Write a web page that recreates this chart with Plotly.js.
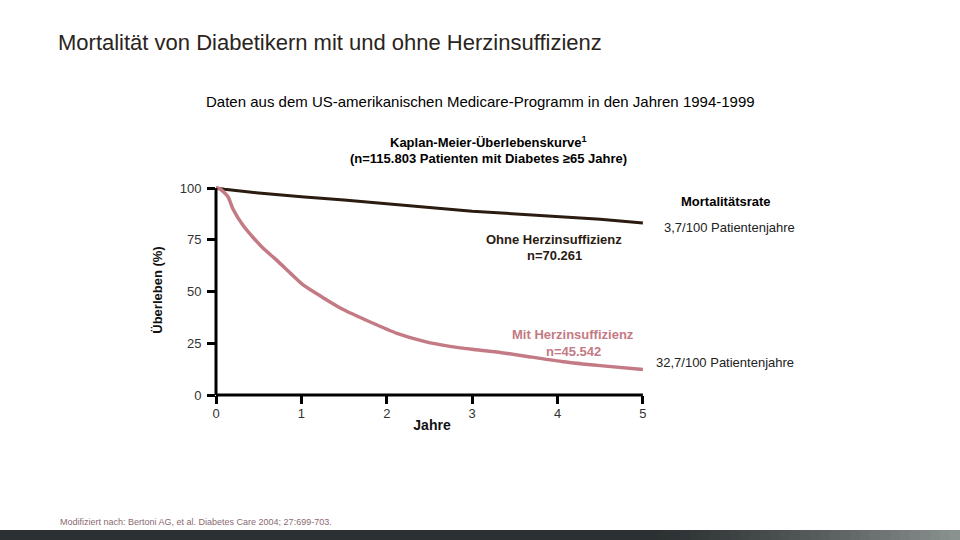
<!DOCTYPE html>
<html>
<head>
<meta charset="utf-8">
<script src="https://cdn.plot.ly/plotly-3.0.1.min.js"></script>
<style>html,body{margin:0;padding:0;background:#fff;}#chart{width:960px;height:540px;}</style>
</head>
<body>
<div id="chart"></div>
<script>
// Data (years, survival %)
const ohneYears = [0, 0.1, 0.5, 0.75, 1, 1.5, 2, 2.5, 3, 3.5, 4, 4.5, 5];
const ohneSurvival = [100, 99.4, 97.6, 96.6, 95.8, 94.3, 92.6, 90.6, 88.8, 87.6, 86.3, 85.0, 83.1];

const mitYears = [0, 0.05, 0.14, 0.2, 0.32, 0.44, 0.55, 0.71, 0.87, 1.02, 1.24, 1.49, 1.8, 2.12, 2.45, 2.74, 3.0, 3.29, 3.7, 4.07, 4.5, 5.0];
const mitSurvival = [100, 99.5, 95.8, 89.8, 81.8, 75.9, 71.0, 65.2, 58.9, 53.2, 47.4, 41.3, 35.4, 29.8, 25.8, 23.5, 22.1, 20.8, 18.3, 16.1, 14.2, 12.3];

const xTicks = [0, 1, 2, 3, 4, 5];
const xTickLabels = ['0', '1', '2', '3', '4', '5'];
const yTicks = [0, 25, 50, 75, 100];
const yTickLabels = ['0', '25', '50', '75', '100'];

const darkColor = '#2b1b10';
const pinkColor = '#c47a84';
const FONT = 'Liberation Sans, Arial, sans-serif';

// layout geometry
const L = 216, R = 960 - 648, T = 185, B = 145;
const W = 960 - L - R, H = 540 - T - B;
const XMAX = 5.06, YMAX = 101.5;
const px = v => (v - L) / W;          // pixel x -> paper
const py = v => (540 - B - v) / H;    // pixel y -> paper

const traces = [
  {x: ohneYears, y: ohneSurvival, type: 'scatter', mode: 'lines',
   line: {color: darkColor, width: 3}, hoverinfo: 'skip', showlegend: false},
  {x: mitYears, y: mitSurvival, type: 'scatter', mode: 'lines',
   line: {color: pinkColor, width: 3.5, shape: 'spline', smoothing: 0.6}, hoverinfo: 'skip', showlegend: false}
];

const ann = (text, x, y, opts) => Object.assign({
  text: text, xref: 'paper', yref: 'paper', x: px(x), y: py(y),
  xanchor: 'center', yanchor: 'middle', showarrow: false,
  font: {family: FONT, size: 13, color: '#111'}
}, opts || {});

const annotations = [
  ann('Mortalität von Diabetikern mit und ohne Herzinsuffizienz', 56, 42,
      {xanchor: 'left', font: {family: FONT, size: 22, color: '#2a2420'}}),
  ann('Daten aus dem US-amerikanischen Medicare-Programm in den Jahren 1994-1999', 480, 101,
      {font: {family: FONT, size: 15, color: '#000'}}),
  ann('<b>Kaplan-Meier-Überlebenskurve<sup>1</sup></b>', 488, 142,
      {font: {family: FONT, size: 13, color: '#000'}}),
  ann('<b>(n=115.803 Patienten mit Diabetes ≥65 Jahre)</b>', 488, 158,
      {font: {family: FONT, size: 13, color: '#000'}}),
  ann('<b>Mortalitätsrate</b>', 726, 201, {font: {family: FONT, size: 13, color: '#000'}}),
  ann('3,7/100 Patientenjahre', 729, 227, {font: {family: FONT, size: 13, color: '#222'}}),
  ann('<b>Ohne Herzinsuffizienz</b>', 554, 239, {font: {family: FONT, size: 13, color: darkColor}}),
  ann('<b>n=70.261</b>', 554, 255, {font: {family: FONT, size: 13, color: darkColor}}),
  ann('<b>Mit Herzinsuffizienz</b>', 573, 334, {font: {family: FONT, size: 13, color: pinkColor}}),
  ann('<b>n=45.542</b>', 573, 351, {font: {family: FONT, size: 13, color: pinkColor}}),
  ann('32,7/100 Patientenjahre', 725, 362, {font: {family: FONT, size: 13, color: '#222'}}),
  ann('Modifiziert nach: Bertoni AG, et al. Diabetes Care 2004; 27:699-703.', 58, 522,
      {xanchor: 'left', font: {family: FONT, size: 9, color: '#8a6a70'}})
];

// axis lines drawn within the data extent (0..5, 0..100)
const shapes = [
  {type: 'line', xref: 'x domain', yref: 'y domain', x0: 0, x1: 5 / XMAX, y0: 0, y1: 0,
   line: {color: '#000', width: 3}, layer: 'above'},
  {type: 'line', xref: 'x domain', yref: 'y domain', x0: 0, x1: 0, y0: 0, y1: 100 / YMAX,
   line: {color: '#000', width: 3}, layer: 'above'}
];
// bottom gradient bar
const barSteps = 96;
for (let i = 0; i < barSteps; i++) {
  const f = (i + 0.5) / barSteps;
  const t = f < 0.68 ? 0 : (f - 0.68) / 0.32;
  const c0 = [44, 48, 50], c1 = [140, 148, 146];
  const c = c0.map((v, k) => Math.round(v + (c1[k] - v) * Math.pow(t, 1.3)));
  shapes.push({type: 'rect', xref: 'paper', yref: 'paper', layer: 'below',
    x0: px(i * 960 / barSteps), x1: px((i + 1) * 960 / barSteps + 1), y0: py(540), y1: py(530),
    line: {width: 0}, fillcolor: 'rgb(' + c.join(',') + ')'});
}

const layout = {
  width: 960, height: 540,
  margin: {l: L, r: R, t: T, b: B, autoexpand: false},
  paper_bgcolor: '#fff', plot_bgcolor: 'rgba(0,0,0,0)',
  font: {family: FONT, size: 13, color: '#222'},
  xaxis: {
    range: [0, XMAX], tickvals: xTicks, ticktext: xTickLabels,
    showgrid: false, zeroline: false, showline: false,
    ticks: 'outside', ticklen: 8, tickwidth: 3, tickcolor: '#000',
    ticklabelstandoff: -2,
    tickfont: {family: FONT, size: 13, color: '#333'},
    title: {text: '<b>Jahre</b>', font: {family: FONT, size: 14, color: '#111'}, standoff: 0},
    fixedrange: true
  },
  yaxis: {
    range: [0, YMAX], tickvals: yTicks, ticktext: yTickLabels,
    showgrid: false, zeroline: false, showline: false,
    ticks: 'outside', ticklen: 8, tickwidth: 3, tickcolor: '#000',
    ticklabelstandoff: 3,
    tickfont: {family: FONT, size: 13, color: '#333'},
    title: {text: '<b>Überleben (%)</b>', font: {family: FONT, size: 13, color: '#111'}, standoff: 14},
    fixedrange: true
  },
  annotations: annotations,
  shapes: shapes,
  showlegend: false
};

Plotly.newPlot('chart', traces, layout, {staticPlot: true, displayModeBar: false});
</script>
</body>
</html>
